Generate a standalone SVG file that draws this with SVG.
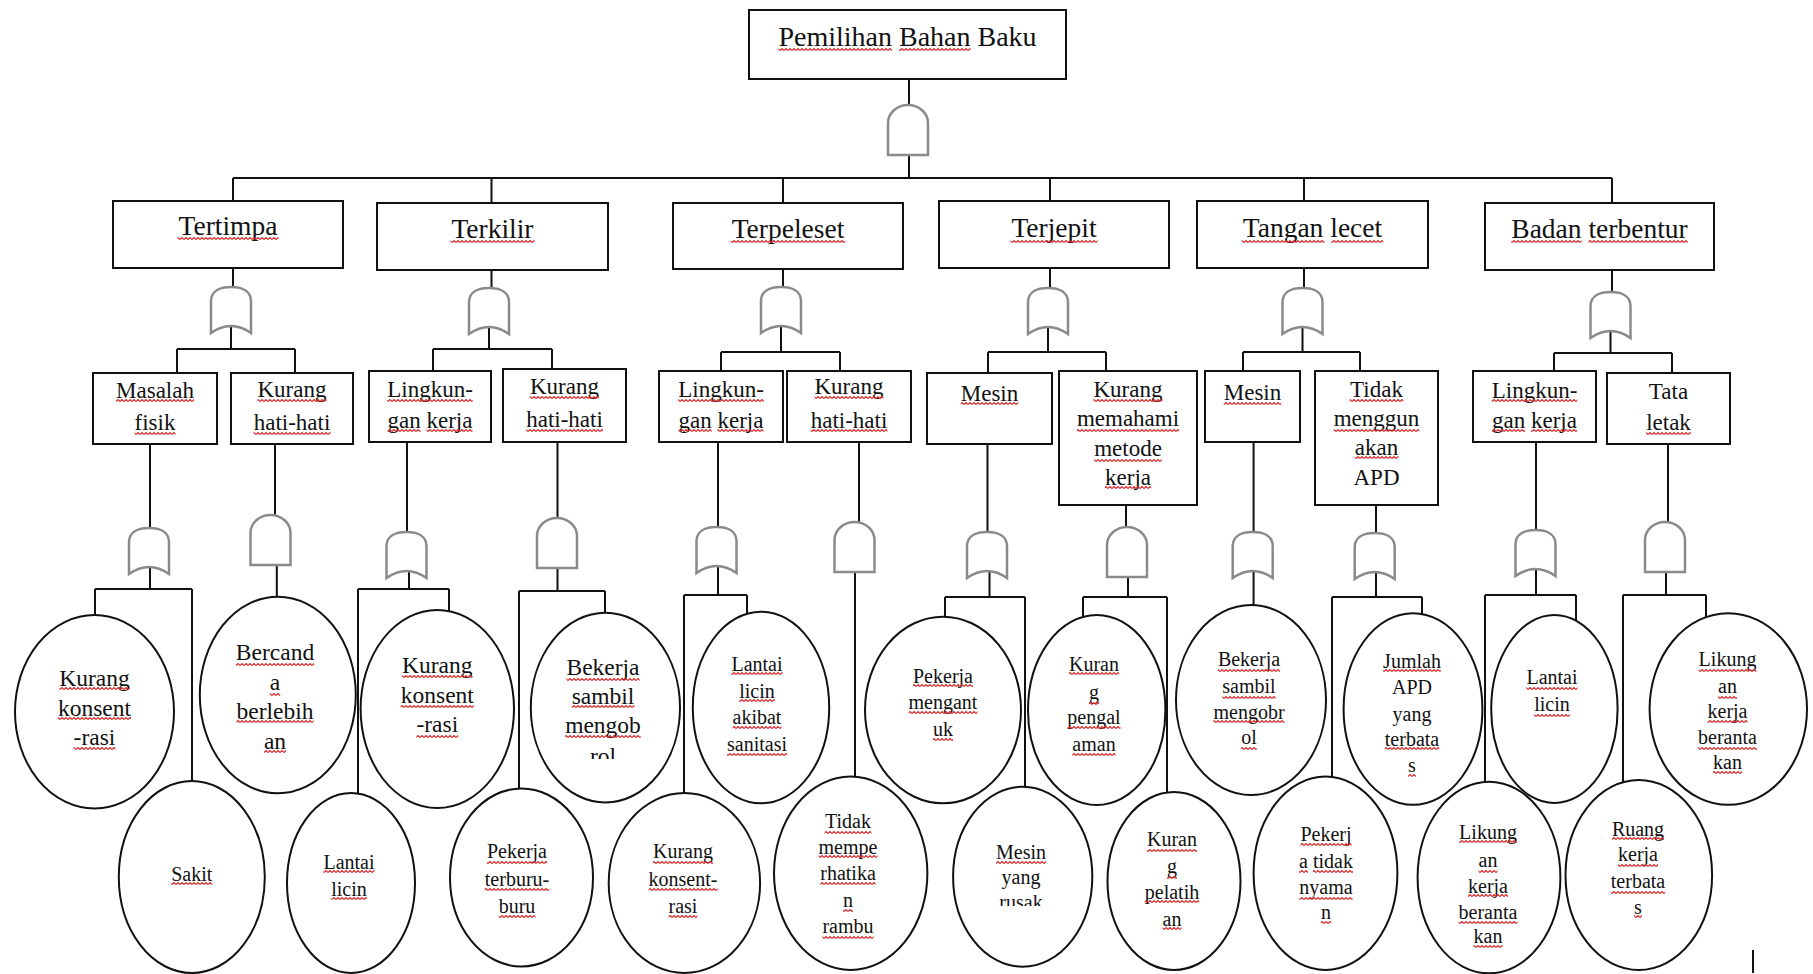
<svg xmlns="http://www.w3.org/2000/svg" width="1813" height="974" viewBox="0 0 1813 974">
<style>
text{font-family:"Liberation Serif","Times New Roman",serif;fill:#111;text-anchor:middle}
.f28{font-size:28px}.f27{font-size:27.5px}.f23{font-size:23px}.f235{font-size:23.5px}.f20{font-size:20px}
.box{fill:#fff;stroke:#111;stroke-width:2}
.ell{fill:none;stroke:#111;stroke-width:2}
.gate{fill:#fff;stroke:#8a8a8a;stroke-width:2.5}
.con{fill:none;stroke:#111;stroke-width:2}
.sq rect{fill:url(#wave);height:3px}
</style>
<defs>
<pattern id="wave" width="4" height="3" patternUnits="userSpaceOnUse"><path d="M0 2.5L2 0.5L4 2.5" fill="none" stroke="#e02424" stroke-width="1.1"/></pattern>
<path id="gA" d="M-20 50V18A20 18 0 0 1 20 18V50Z"/>
<path id="gO" d="M-20 46V14C-20 4-11 0 0 0C11 0 20 4 20 14V46Q0 32-20 46Z"/>
<clipPath id="clipRol"><rect x="520" y="600" width="170" height="159"/></clipPath>
<clipPath id="clipRusak"><rect x="950" y="780" width="150" height="126"/></clipPath>
</defs>
<rect width="1813" height="974" fill="#fff"/>
<g id="connectors" class="con">
<path d="M909 79V105M909 155V178M233 178H1612M233 178V201M491.5 178V203M783 178V203M1050 178V201M1304 178V201M1612 178V203"/>
<path d="M233 268V287M231 326V349M177 349H295M177 349V373M295 349V373"/>
<path d="M491.5 270V288M489 327V349M433 349H552M433 349V371M552 349V369"/>
<path d="M783 269V287M781 326V352M721 352H840M721 352V371M840 352V371"/>
<path d="M1050 268V288M1048 327V352M988 352H1106M988 352V373M1106 352V371"/>
<path d="M1304 268V288M1302.5 327V352M1243 352H1360M1243 352V371M1360 352V371"/>
<path d="M1612 270V292M1610.5 331V353M1554 353H1672M1554 353V371M1672 353V373"/>
<path d="M150 444V528M150 567V589M95 589H192M95 589V615M192 589V781"/>
<path d="M275 444V515M276.8 565V597"/>
<path d="M407 442V532M409 571V589M358 589H449M358 589V793.5M449 589V611"/>
<path d="M557.5 442V518M557.5 568V591M519 591H605M519 591V788.5M605 591V613"/>
<path d="M718 442V527M718 566V595M684 595H747M684 595V793M747 595V613.7"/>
<path d="M859 432V522M855 572V777"/>
<path d="M987.5 444V532M989.5 571V597M945 597H1025M945 597V617M1025 597V787"/>
<path d="M1126 505V527M1128 577V597M1083 597H1167M1083 597V617M1167 597V792.5"/>
<path d="M1253.6 442V532M1253.6 571V605"/>
<path d="M1376 505V533M1376 572V597M1332 597H1422M1332 597V777M1422 597V614"/>
<path d="M1536 442V530M1536 569V595M1485 595H1576M1576 595V620M1485 595V782"/>
<path d="M1668 444V522M1666 572V595M1623 595H1706M1706 595V617M1623 595V782"/>
<path d="M1753 950V973"/>
</g>
<g id="gates" class="gate">
<use href="#gA" x="908" y="105"/>
<use href="#gO" x="231" y="287"/>
<use href="#gO" x="489" y="288"/>
<use href="#gO" x="781" y="287"/>
<use href="#gO" x="1048" y="288"/>
<use href="#gO" x="1302.5" y="288"/>
<use href="#gO" x="1610.5" y="292"/>
<use href="#gO" x="149" y="528"/>
<use href="#gA" x="270.5" y="515"/>
<use href="#gO" x="406.5" y="532"/>
<use href="#gA" x="557" y="518"/>
<use href="#gO" x="716.5" y="527"/>
<use href="#gA" x="854.5" y="522"/>
<use href="#gO" x="987" y="532"/>
<use href="#gA" x="1127" y="527"/>
<use href="#gO" x="1252.7" y="532"/>
<use href="#gO" x="1374.7" y="533"/>
<use href="#gO" x="1535.5" y="530"/>
<use href="#gA" x="1665" y="522"/>
</g>
<g id="n-top"><rect class="box" x="749" y="10" width="317" height="69"/><text class="f28" x="907.5" y="46">Pemilihan Bahan Baku</text><g class="sq"><rect x="778.4" y="48" width="113.6"/><rect x="899" y="48" width="71.5"/></g></g>
<g id="n-tertimpa"><rect class="box" x="113" y="201" width="230" height="67"/><text class="f27" x="228" y="235">Tertimpa</text><g class="sq"><rect x="177.6" y="237" width="100.8"/></g></g>
<g id="n-terkilir"><rect class="box" x="377" y="203" width="231" height="67"/><text class="f27" x="492.5" y="238">Terkilir</text><g class="sq"><rect x="450.5" y="240" width="84"/></g></g>
<g id="n-terpeleset"><rect class="box" x="673" y="203" width="230" height="66"/><text class="f27" x="788" y="238">Terpeleset</text><g class="sq"><rect x="730.7" y="240" width="114.5"/></g></g>
<g id="n-terjepit"><rect class="box" x="939" y="201" width="230" height="67"/><text class="f27" x="1054" y="237">Terjepit</text><g class="sq"><rect x="1010.5" y="240" width="87.1"/></g></g>
<g id="n-tangan"><rect class="box" x="1197" y="201" width="231" height="67"/><text class="f27" x="1312.5" y="237">Tangan lecet</text><g class="sq"><rect x="1241.9" y="240" width="82.5"/><rect x="1331.3" y="240" width="51.9"/></g></g>
<g id="n-badan"><rect class="box" x="1485" y="203" width="229" height="67"/><text class="f27" x="1599.5" y="238">Badan terbentur</text><g class="sq"><rect x="1511.3" y="240" width="70.3"/><rect x="1588.5" y="240" width="99.3"/></g></g>
<g id="n-masalah"><rect class="box" x="93" y="373" width="124" height="71"/><text class="f23" x="155" y="398">Masalah<tspan x="155" y="430">fisik</tspan></text><g class="sq"><rect x="116" y="399" width="77.9"/><rect x="134.6" y="432" width="40.9"/></g></g>
<g id="n-khh1"><rect class="box" x="231" y="373" width="122" height="71"/><text class="f23" x="292" y="397">Kurang<tspan x="292" y="430">hati-hati</tspan></text><g class="sq"><rect x="257.5" y="399" width="69"/><rect x="253.7" y="432" width="76.7"/></g></g>
<g id="n-lk1"><rect class="box" x="369" y="371" width="122" height="71"/><text class="f23" x="430" y="397">Lingkun-<tspan x="430" y="428">gan kerja</tspan></text><g class="sq"><rect x="387.2" y="399" width="85.6"/><rect x="387.5" y="429" width="33.2"/><rect x="426.5" y="429" width="46"/></g></g>
<g id="n-khh2"><rect class="box" x="503" y="369" width="123" height="73"/><text class="f23" x="564.5" y="394">Kurang<tspan x="564.5" y="427">hati-hati</tspan></text><g class="sq"><rect x="530" y="396" width="69"/><rect x="526.2" y="429" width="76.7"/></g></g>
<g id="n-lk3"><rect class="box" x="659" y="371" width="124" height="71"/><text class="f23" x="721" y="397">Lingkun-<tspan x="721" y="428">gan kerja</tspan></text><g class="sq"><rect x="678.2" y="399" width="85.6"/><rect x="678.5" y="429" width="33.2"/><rect x="717.5" y="429" width="46"/></g></g>
<g id="n-khh3"><rect class="box" x="787" y="371" width="124" height="71"/><text class="f23" x="849" y="394">Kurang<tspan x="849" y="428">hati-hati</tspan></text><g class="sq"><rect x="814.5" y="396" width="69"/><rect x="810.7" y="429" width="76.7"/></g></g>
<g id="n-mesin4"><rect class="box" x="927" y="373" width="125" height="71"/><text class="f23" x="989.5" y="401">Mesin</text><g class="sq"><rect x="960.8" y="402" width="57.5"/></g></g>
<g id="n-kmmk"><rect class="box" x="1059" y="371" width="138" height="134"/><text class="f23" x="1128" y="397">Kurang<tspan x="1128" y="426">memahami</tspan><tspan x="1128" y="456">metode</tspan><tspan x="1128" y="485">kerja</tspan></text><g class="sq"><rect x="1093.5" y="399" width="69"/><rect x="1076.9" y="429" width="102.2"/><rect x="1094.1" y="459" width="67.7"/><rect x="1105" y="486" width="46"/></g></g>
<g id="n-mesin5"><rect class="box" x="1205" y="371" width="95" height="71"/><text class="f23" x="1252.5" y="400">Mesin</text><g class="sq"><rect x="1223.8" y="402" width="57.5"/></g></g>
<g id="n-tapd"><rect class="box" x="1315" y="371" width="123" height="134"/><text class="f23" x="1376.5" y="397">Tidak<tspan x="1376.5" y="426">menggun</tspan><tspan x="1376.5" y="455">akan</tspan><tspan x="1376.5" y="485">APD</tspan></text><g class="sq"><rect x="1349.7" y="399" width="53.7"/><rect x="1333.7" y="429" width="85.6"/><rect x="1354.8" y="456" width="43.4"/></g></g>
<g id="n-lk6"><rect class="box" x="1473" y="371" width="123" height="71"/><text class="f23" x="1534.5" y="398">Lingkun-<tspan x="1534.5" y="428">gan kerja</tspan></text><g class="sq"><rect x="1491.7" y="399" width="85.6"/><rect x="1492" y="429" width="33.2"/><rect x="1531" y="429" width="46"/></g></g>
<g id="n-tata"><rect class="box" x="1607" y="373" width="123" height="71"/><text class="f23" x="1668.5" y="399">Tata<tspan x="1668.5" y="430">letak</tspan></text><g class="sq"><rect x="1646.1" y="432" width="44.7"/></g></g>
<g id="e1"><ellipse class="ell" cx="94.5" cy="711.7" rx="79.5" ry="96.7"/><text class="f235" x="94.5" y="686">Kurang<tspan x="94.5" y="716">konsent</tspan><tspan x="94.5" y="745">-rasi</tspan></text><g class="sq"><rect x="59.3" y="687" width="70.5"/><rect x="57.9" y="717" width="73.1"/><rect x="73.6" y="747" width="41.8"/></g></g>
<g id="e2"><ellipse class="ell" cx="191.8" cy="877" rx="73" ry="96"/><text class="f20" x="191.8" y="881">Sakit</text><g class="sq"><rect x="171.2" y="882" width="41.1"/></g></g>
<g id="e3"><ellipse class="ell" cx="277.8" cy="695" rx="78" ry="98.3"/><text class="f235" x="275" y="660">Bercand<tspan x="275" y="690">a</tspan><tspan x="275" y="719">berlebih</tspan><tspan x="275" y="749">an</tspan></text><g class="sq"><rect x="235.8" y="663" width="78.3"/><rect x="269.8" y="693" width="10.4"/><rect x="236.5" y="720" width="77"/><rect x="263.9" y="750" width="22.2"/></g></g>
<g id="e4"><ellipse class="ell" cx="437.3" cy="709" rx="76.7" ry="99"/><text class="f235" x="437.3" y="673">Kurang<tspan x="437.3" y="703">konsent</tspan><tspan x="437.3" y="732">-rasi</tspan></text><g class="sq"><rect x="402.1" y="675" width="70.5"/><rect x="400.7" y="705" width="73.1"/><rect x="416.4" y="735" width="41.8"/></g></g>
<g id="e5"><ellipse class="ell" cx="351" cy="883" rx="64" ry="90"/><text class="f20" x="349" y="869">Lantai<tspan x="349" y="896">licin</tspan></text><g class="sq"><rect x="323.4" y="870" width="51.1"/><rect x="331.2" y="897" width="35.6"/></g></g>
<g id="e6"><ellipse class="ell" cx="521.5" cy="877.5" rx="71.5" ry="89"/><text class="f20" x="517" y="858">Pekerja<tspan x="517" y="886">terburu-</tspan><tspan x="517" y="913">buru</tspan></text><g class="sq"><rect x="487" y="861" width="60"/><rect x="484.8" y="888" width="64.4"/><rect x="498.7" y="915" width="36.7"/></g></g>
<g id="e7"><ellipse class="ell" cx="605.4" cy="707.6" rx="74.6" ry="94.8"/><text class="f235" x="603" y="675">Bekerja<tspan x="603" y="704">sambil</tspan><tspan x="603" y="733">mengob</tspan></text><text class="f235" x="603" y="764" clip-path="url(#clipRol)">rol</text><g class="sq"><rect x="566.5" y="678" width="73.1"/><rect x="571.7" y="705" width="62.7"/><rect x="565.1" y="735" width="75.7"/></g></g>
<g id="e8"><ellipse class="ell" cx="761" cy="707.5" rx="68.2" ry="95.8"/><text class="f20" x="757" y="671">Lantai<tspan x="757" y="698">licin</tspan><tspan x="757" y="724">akibat</tspan><tspan x="757" y="751">sanitasi</tspan></text><g class="sq"><rect x="731.4" y="672" width="51.1"/><rect x="739.2" y="699" width="35.6"/><rect x="732.6" y="726" width="48.9"/><rect x="727" y="753" width="60"/></g></g>
<g id="e9"><ellipse class="ell" cx="684.4" cy="883" rx="75.7" ry="90"/><text class="f20" x="683" y="858">Kurang<tspan x="683" y="886">konsent-</tspan><tspan x="683" y="913">rasi</tspan></text><g class="sq"><rect x="653" y="861" width="60"/><rect x="648.6" y="888" width="68.9"/><rect x="668.6" y="915" width="28.9"/></g></g>
<g id="e10"><ellipse class="ell" cx="850.7" cy="873.3" rx="76.7" ry="96.7"/><text class="f20" x="848" y="828">Tidak<tspan x="848" y="854">mempe</tspan><tspan x="848" y="880">rhatika</tspan><tspan x="848" y="907">n</tspan><tspan x="848" y="933">rambu</tspan></text><g class="sq"><rect x="824.7" y="831" width="46.7"/><rect x="818.6" y="855" width="58.9"/><rect x="820.2" y="882" width="55.5"/><rect x="843" y="909" width="10"/><rect x="822.4" y="936" width="51.1"/></g></g>
<g id="e11"><ellipse class="ell" cx="943" cy="710" rx="78" ry="93.3"/><text class="f20" x="943" y="683">Pekerja<tspan x="943" y="709">mengant</tspan><tspan x="943" y="736">uk</tspan></text><g class="sq"><rect x="913" y="684" width="60"/><rect x="908.6" y="711" width="68.9"/><rect x="933" y="738" width="20"/></g></g>
<g id="e12"><ellipse class="ell" cx="1022.7" cy="876.7" rx="69.6" ry="90"/><text class="f20" x="1021" y="859">Mesin<tspan x="1021" y="884">yang</tspan></text><text class="f20" x="1021" y="909" clip-path="url(#clipRusak)">rusak</text><g class="sq"><rect x="996" y="861" width="50"/></g></g>
<g id="e13"><ellipse class="ell" cx="1096.7" cy="710" rx="68.7" ry="95"/><text class="f20" x="1094" y="671">Kuran<tspan x="1094" y="699">g</tspan><tspan x="1094" y="724">pengal</tspan><tspan x="1094" y="751">aman</tspan></text><g class="sq"><rect x="1069" y="672" width="50"/><rect x="1089" y="702" width="10"/><rect x="1067.3" y="726" width="53.3"/><rect x="1072.3" y="753" width="43.3"/></g></g>
<g id="e14"><ellipse class="ell" cx="1174" cy="881" rx="66.5" ry="89"/><text class="f20" x="1172" y="846">Kuran<tspan x="1172" y="873">g</tspan><tspan x="1172" y="899">pelatih</tspan><tspan x="1172" y="926">an</tspan></text><g class="sq"><rect x="1147" y="849" width="50"/><rect x="1167" y="876" width="10"/><rect x="1144.8" y="900" width="54.4"/><rect x="1162.6" y="927" width="18.9"/></g></g>
<g id="e15"><ellipse class="ell" cx="1251" cy="700" rx="75" ry="95"/><text class="f20" x="1249" y="666">Bekerja<tspan x="1249" y="693">sambil</tspan><tspan x="1249" y="719">mengobr</tspan><tspan x="1249" y="744">ol</tspan></text><g class="sq"><rect x="1217.9" y="669" width="62.2"/><rect x="1222.3" y="696" width="53.3"/><rect x="1213.4" y="720" width="71.1"/><rect x="1241.2" y="747" width="15.6"/></g></g>
<g id="e16"><ellipse class="ell" cx="1413" cy="709" rx="69.4" ry="95.8"/><text class="f20" x="1412" y="668">Jumlah<tspan x="1412" y="694">APD</tspan><tspan x="1412" y="721">yang</tspan><tspan x="1412" y="746">terbata</tspan><tspan x="1412" y="772">s</tspan></text><g class="sq"><rect x="1383.1" y="669" width="57.8"/><rect x="1384.8" y="747" width="54.4"/><rect x="1408.1" y="774" width="7.8"/></g></g>
<g id="e17"><ellipse class="ell" cx="1325.5" cy="873.3" rx="71.9" ry="96.7"/><text class="f20" x="1326" y="841">Pekerj<tspan x="1326" y="868">a tidak</tspan><tspan x="1326" y="894">nyama</tspan><tspan x="1326" y="919">n</tspan></text><g class="sq"><rect x="1300.4" y="843" width="51.1"/><rect x="1299.1" y="870" width="8.9"/><rect x="1313" y="870" width="40"/><rect x="1299.3" y="897" width="53.3"/><rect x="1321" y="921" width="10"/></g></g>
<g id="e18"><ellipse class="ell" cx="1554.4" cy="709" rx="63.2" ry="94"/><text class="f20" x="1552" y="684">Lantai<tspan x="1552" y="711">licin</tspan></text><g class="sq"><rect x="1526.4" y="687" width="51.1"/><rect x="1534.2" y="714" width="35.6"/></g></g>
<g id="e19"><ellipse class="ell" cx="1489" cy="877.5" rx="71.4" ry="95.8"/><text class="f20" x="1488" y="839">Likung<tspan x="1488" y="867">an</tspan><tspan x="1488" y="893">kerja</tspan><tspan x="1488" y="919">beranta</tspan><tspan x="1488" y="943">kan</tspan></text><g class="sq"><rect x="1459.1" y="840" width="57.8"/><rect x="1478.6" y="870" width="18.9"/><rect x="1468" y="894" width="40"/><rect x="1458.6" y="921" width="58.9"/><rect x="1473.6" y="945" width="28.9"/></g></g>
<g id="e20"><ellipse class="ell" cx="1728.3" cy="709" rx="78.7" ry="95.8"/><text class="f20" x="1727.5" y="666">Likung<tspan x="1727.5" y="693">an</tspan><tspan x="1727.5" y="718">kerja</tspan><tspan x="1727.5" y="744">beranta</tspan><tspan x="1727.5" y="769">kan</tspan></text><g class="sq"><rect x="1698.6" y="669" width="57.8"/><rect x="1718.1" y="696" width="18.9"/><rect x="1707.5" y="720" width="40"/><rect x="1698.1" y="747" width="58.9"/><rect x="1713.1" y="771" width="28.9"/></g></g>
<g id="e21"><ellipse class="ell" cx="1638.8" cy="875" rx="73.3" ry="95"/><text class="f20" x="1638" y="836">Ruang<tspan x="1638" y="861">kerja</tspan><tspan x="1638" y="888">terbata</tspan><tspan x="1638" y="914">s</tspan></text><g class="sq"><rect x="1611.9" y="837" width="52.2"/><rect x="1618" y="864" width="40"/><rect x="1610.8" y="891" width="54.4"/><rect x="1634.1" y="915" width="7.8"/></g></g>
</svg>
